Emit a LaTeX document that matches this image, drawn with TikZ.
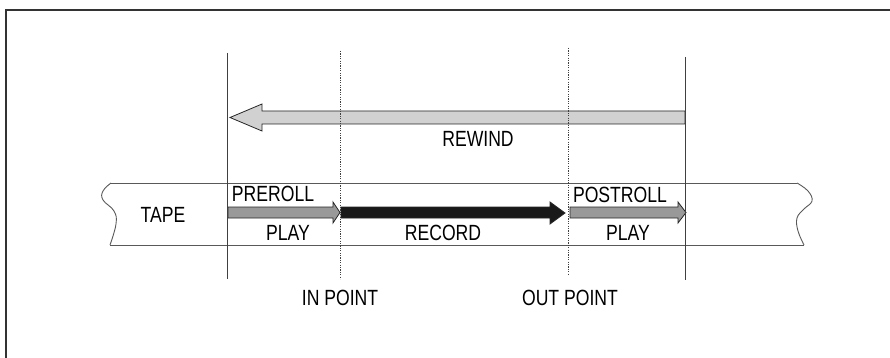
\documentclass[tikz,border=0pt]{standalone}
\usepackage{fontspec}
\setmainfont{Liberation Sans}[FakeStretch=0.8]
\begin{document}
\begin{tikzpicture}[x=1pt,y=-1pt,
  frame/.style={draw=black!80,line width=1.8pt},
  solidline/.style={draw=black!75,line width=0.9pt},
  dotline/.style={draw=black!75,line width=0.9pt,dash pattern=on 1.2pt off 1.2pt},
  tapeedge/.style={draw=black!65,line width=0.9pt},
  arrowshape/.style={draw=black!85,line width=0.8pt},
  lbl/.style={font=\fontsize{22}{24}\selectfont,inner sep=0pt,anchor=center}]
\useasboundingbox (0,0) rectangle (890,358);
% frame (top and left edges)
\draw[frame] (890,10) -- (6,10) -- (6,358);
% vertical marker lines
\coordinate (preS) at (227,53);  \coordinate (preE) at (227,279);
\coordinate (inS) at (340,51);   \coordinate (inE) at (340,279);
\coordinate (outS) at (568,48);  \coordinate (outE) at (568,275);
\coordinate (postS) at (685,57); \coordinate (postE) at (685,280);
% tape
\draw[tapeedge] (111,183) -- (797,183);
\draw[tapeedge] (110,245) -- (804,245);
\draw[tapeedge] plot[smooth,tension=0.7] coordinates {(111,183) (103,191) (103,200) (114,211) (116,224) (110,245)};
\draw[tapeedge] plot[smooth,tension=0.7] coordinates {(797,183) (808,191) (812,201) (804,209) (797,218) (798,231) (804,245)};
% rewind arrow
\filldraw[arrowshape,fill=black!18] (685,111) -- (262,111) -- (262,104) -- (230,117.5) -- (262,131) -- (262,124) -- (685,124) -- cycle;
% preroll arrow
\filldraw[arrowshape,fill=black!40] (228,207) -- (333,207) -- (333,202) -- (340,212.5) -- (333,223) -- (333,218) -- (228,218) -- cycle;
% record arrow
\filldraw[arrowshape,fill=black!90] (341,207) -- (550,207) -- (550,202) -- (565,213) -- (550,224) -- (550,218) -- (341,218) -- cycle;
% postroll arrow
\filldraw[arrowshape,fill=black!40] (570,207) -- (678,207) -- (678,202) -- (686,212.5) -- (678,223) -- (678,218) -- (570,218) -- cycle;
% lines drawn over
\draw[solidline] (preS) -- (preE);
\draw[dotline] (inS) -- (inE);
\draw[dotline] (outS) -- (outE);
\draw[solidline] (postS) -- (postE);
% labels
\node[lbl] (rewind) at (478,139) {REWIND};
\node[lbl] (tape) at (163,215) {TAPE};
\node[lbl] (preroll) at (273,194) {PREROLL};
\node[lbl] (play1) at (288,233) {PLAY};
\node[lbl] (record) at (443,233) {RECORD};
\node[lbl] (postroll) at (620,195) {POSTROLL};
\node[lbl] (play2) at (628,233) {PLAY};
\node[lbl] (inpoint) at (340,298) {IN POINT};
\node[lbl] (outpoint) at (570,298) {OUT POINT};
\end{tikzpicture}
\end{document}
